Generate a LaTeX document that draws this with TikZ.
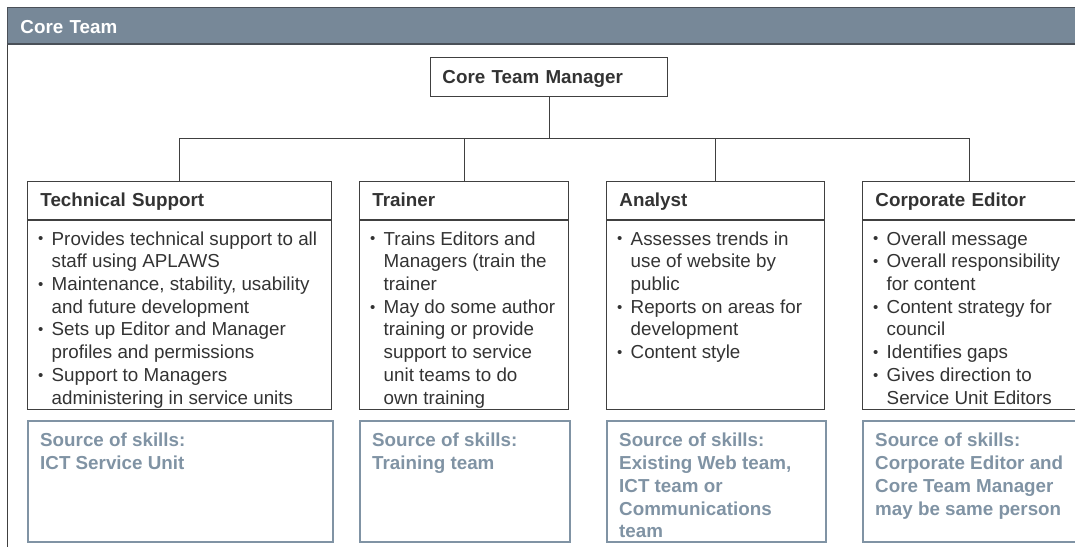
\documentclass[tikz,border=0pt]{standalone}
\usepackage{fontspec}
\setmainfont{Liberation Sans}
\usetikzlibrary{calc}
\definecolor{hdr}{HTML}{778898}
\definecolor{hdrline}{HTML}{4A5058}
\definecolor{skill}{HTML}{8093A4}
\definecolor{ink}{HTML}{333333}
\definecolor{linec}{HTML}{404040}
\newcommand\txtsize{\fontsize{18.8pt}{22.7pt}\selectfont}
\newcommand\bul{\par\noindent\hangindent=14.5pt\hangafter=1\makebox[14.5pt][l]{\hspace{1pt}\raisebox{1.2pt}{\fontsize{15pt}{15pt}\selectfont\textbullet}}\rule{0pt}{16pt}}
\newcommand\nl{\hfil\break}
\newcommand\bodytxt[2]{\parbox[t]{#1}{\txtsize\color{ink}\parindent=0pt\parfillskip=0pt plus 1fil #2}}
\begin{document}
\begin{tikzpicture}[x=1pt,y=-1pt,
  frame/.style={draw=linec,line width=0.9pt},
  conn/.style={draw=linec,line width=0.9pt},
  band/.style={anchor=north west,fill=hdr,draw=hdrline,line width=0.9pt,inner xsep=13pt,inner ysep=0pt,
    minimum height=36pt,text height=16pt,text depth=0pt,align=left,font=\txtsize\bfseries,text=white},
  rolehead/.style={anchor=north west,draw=linec,line width=0.9pt,inner xsep=13pt,inner ysep=0pt,
    minimum height=38pt,text height=14pt,text depth=2.6pt,align=left,font=\txtsize\bfseries,text=ink},
  mgr/.style={anchor=north west,draw=linec,line width=0.9pt,inner xsep=12pt,inner ysep=0pt,
    minimum height=39pt,text height=14pt,text depth=1.6pt,align=left,font=\txtsize\bfseries,text=ink},
  rolebody/.style={anchor=north west,draw=linec,line width=0.9pt,inner sep=0pt,minimum height=189pt},
  skillbox/.style={anchor=north west,draw=skill,line width=2.4pt,inner sep=0pt,minimum height=121pt},
  bodytext/.style={anchor=north west,inner sep=0pt},
  skilltext/.style={anchor=north west,inner sep=0pt,align=left,font=\txtsize\bfseries,text=skill}
]
\useasboundingbox (0,0) rectangle (1075,546);
\clip (0,0) rectangle (1075,546);

% outer frame and header band
\coordinate (fbot) at (8,547);
\node[band,minimum width=1080pt,text width=1054pt] (band) at (7,7) {Core Team};
\draw[frame] (band.south west) -- (band.south west |- fbot);
\draw[hdrline,line width=1.6pt] (band.south west) -- (band.south east);

% manager
\node[mgr,minimum width=237pt,text width=213pt] (ctm) at (430,57) {Core Team Manager};

% role headers
\node[rolehead,minimum width=304pt,text width=278pt] (tsh) at (27,181) {Technical Support};
\node[rolehead,minimum width=209pt,text width=183pt] (trh) at (359,181) {Trainer};
\node[rolehead,minimum width=218pt,text width=192pt] (anh) at (606,181) {Analyst};
\node[rolehead,minimum width=214pt,text width=188pt] (ceh) at (862,181) {Corporate Editor};

% role bodies
\node[rolebody,minimum width=304pt] (tsb) at (tsh.south west) {};
\node[rolebody,minimum width=209pt] (trb) at (trh.south west) {};
\node[rolebody,minimum width=218pt] (anb) at (anh.south west) {};
\node[rolebody,minimum width=214pt] (ceb) at (ceh.south west) {};

\node[bodytext] (tst) at ($(tsb.north west)+(10,9)$) {\bodytxt{292pt}{%
\bul Provides technical support to all\nl staff using APLAWS
\bul Maintenance, stability, usability\nl and future development
\bul Sets up Editor and Manager\nl profiles and permissions
\bul Support to Managers\nl administering in service units}};

\node[bodytext] (trt) at ($(trb.north west)+(10,9)$) {\bodytxt{197pt}{%
\bul Trains Editors and\nl Managers (train the\nl trainer
\bul May do some author\nl training or provide\nl support to service\nl unit teams to do\nl own training}};

\node[bodytext] (ant) at ($(anb.north west)+(10,9)$) {\bodytxt{206pt}{%
\bul Assesses trends in\nl use of website by\nl public
\bul Reports on areas for\nl development
\bul Content style}};

\node[bodytext] (cet) at ($(ceb.north west)+(10,9)$) {\bodytxt{202pt}{%
\bul Overall message
\bul Overall responsibility\nl for content
\bul Content strategy for\nl council
\bul Identifies gaps
\bul Gives direction to\nl Service Unit Editors}};

% skills boxes
\node[skillbox,minimum width=305pt] (tss) at (27,420) {};
\node[skillbox,minimum width=210pt] (trs) at (359,420) {};
\node[skillbox,minimum width=219pt] (ans) at (606,420) {};
\node[skillbox,minimum width=216pt] (ces) at (862,420) {};

\node[skilltext] (tssk) at ($(tss.north west)+(13,10.7)$) {\rule{0pt}{16pt}Source of skills:\\ICT Service Unit};
\node[skilltext] (trsk) at ($(trs.north west)+(13,10.7)$) {\rule{0pt}{16pt}Source of skills:\\Training team};
\node[skilltext] (ansk) at ($(ans.north west)+(13,10.7)$) {\rule{0pt}{16pt}Source of skills:\\Existing Web team,\\ICT team or\\Communications\\team};
\node[skilltext] (cesk) at ($(ces.north west)+(13,10.7)$) {\rule{0pt}{16pt}Source of skills:\\Corporate Editor and\\Core Team Manager\\may be same person};

% connectors
\coordinate (bus) at (ctm.south |- 0,138);
\draw[conn] (ctm.south) -- (bus);
\draw[conn] (tsh.north) |- (bus);
\draw[conn] (trh.north) |- (bus);
\draw[conn] (anh.north) |- (bus);
\draw[conn] (ceh.north) |- (bus);
\end{tikzpicture}
\end{document}
